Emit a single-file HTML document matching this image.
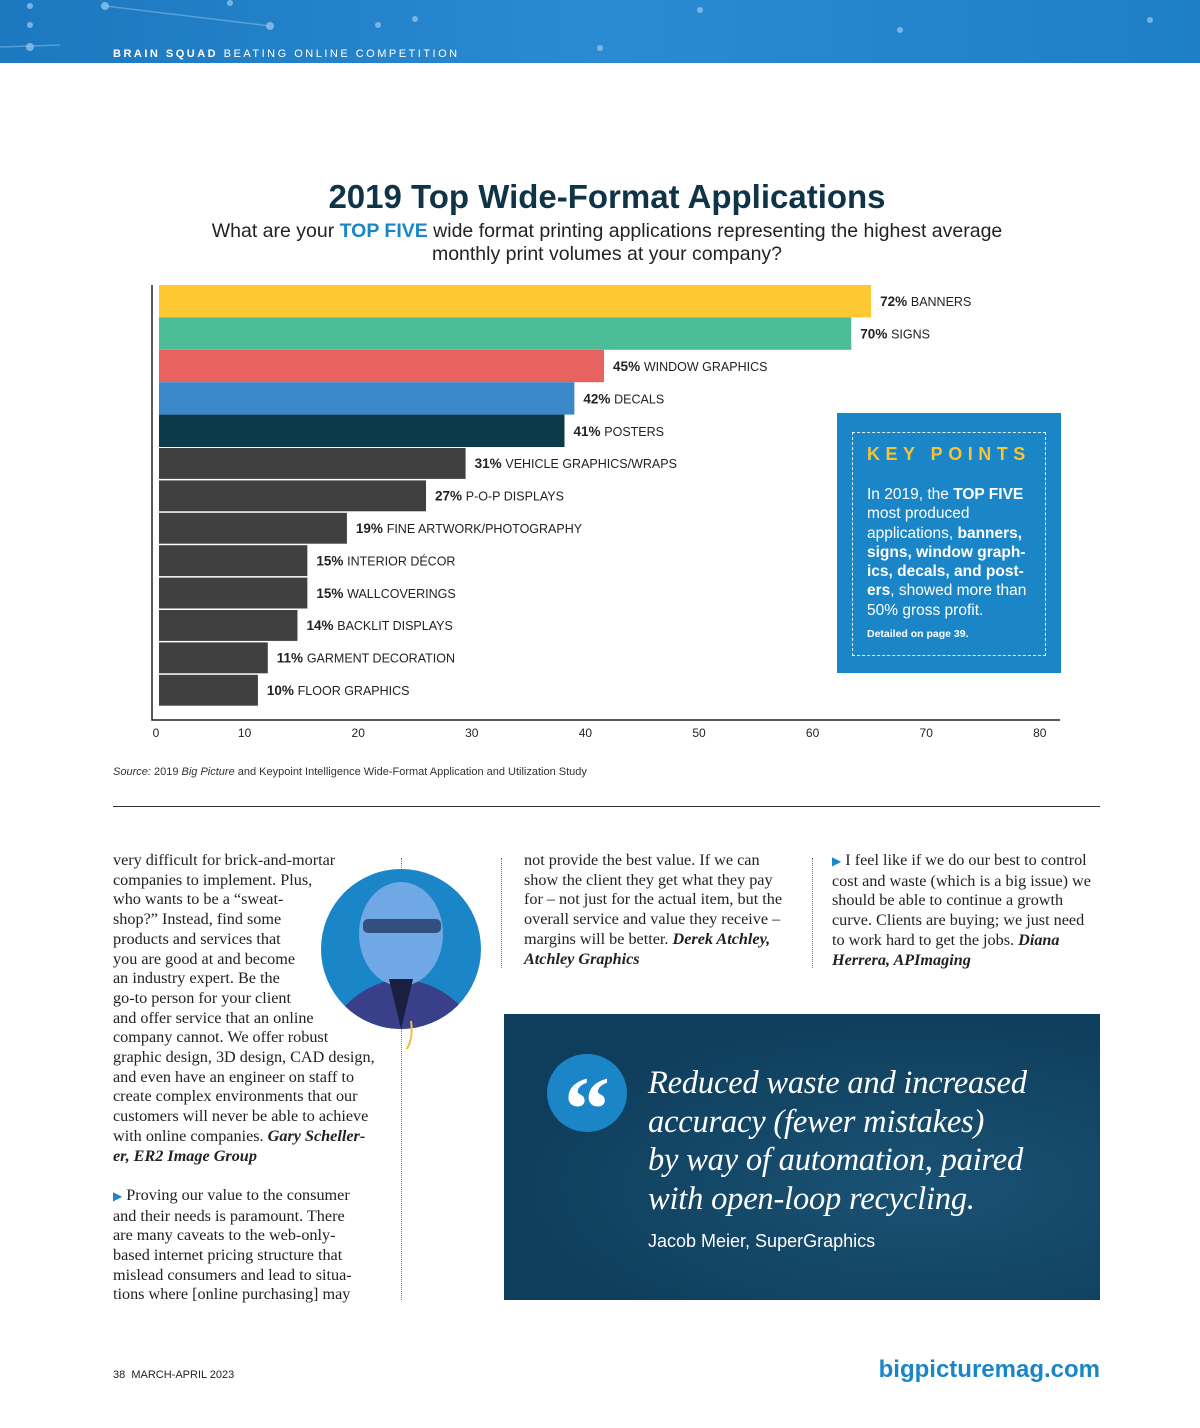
<!DOCTYPE html>
<html><head><meta charset="utf-8"><style>
body{margin:0;width:1200px;height:1428px;position:relative;background:#fff;overflow:hidden;font-family:"Liberation Sans",sans-serif;}
.a{position:absolute;white-space:nowrap;}
.ser{font-family:"Liberation Serif",serif;font-size:16.2px;color:#222;letter-spacing:0px;line-height:19.7px;}
.ser b{font-style:italic;}
.tri{color:#1a86c8;font-size:12px;}
</style></head><body>
<div class="a" style="left:0;top:0;width:1200px;height:63px;background:linear-gradient(90deg,#1c78bf,#2a8ad2 50%,#1e7fc6);">
<svg width="1200" height="63" style="position:absolute;left:0;top:0"><g fill="#8fc1ea" opacity="0.8"><circle cx="30" cy="6" r="3"/><circle cx="30" cy="25" r="3"/><circle cx="30" cy="47" r="4"/><circle cx="105" cy="6" r="4"/><circle cx="270" cy="26" r="4"/><circle cx="230" cy="3" r="3"/><circle cx="378" cy="25" r="3"/><circle cx="415" cy="19" r="3"/><circle cx="600" cy="48" r="3"/><circle cx="700" cy="10" r="3"/><circle cx="900" cy="30" r="3"/><circle cx="1150" cy="20" r="3"/></g><path d="M105 6 L270 26 M0 47 L60 45" stroke="#8fc1ea" stroke-width="1.5" opacity="0.5"/></svg>
<div class="a" style="left:113px;top:48px;font-size:11px;letter-spacing:2.5px;color:#fff;"><b>BRAIN SQUAD</b> BEATING ONLINE COMPETITION</div></div>

<div class="a" style="left:0;width:1214px;text-align:center;top:178px;font-size:33px;font-weight:bold;color:#0f3447;">2019 Top Wide-Format Applications</div>
<div class="a" style="left:0;width:1214px;text-align:center;top:220px;font-size:19.5px;line-height:23px;color:#222;white-space:normal;">What are your <b style="color:#1a86c8">TOP FIVE</b> wide format printing applications representing the highest average<br>monthly print volumes at your company?</div>

<svg id="chart" class="a" width="1200" height="760" style="left:0;top:0"></svg>

<div class="a" style="left:837px;top:413px;width:224px;height:260px;background:#1a86c8;">
<div class="a" style="left:15px;top:19px;width:192px;height:222px;border:1.5px dashed #e8f2fa;"></div>
<div class="a" style="left:30px;top:31px;font-size:18px;font-weight:bold;letter-spacing:5.5px;color:#f5c333;">KEY POINTS</div>
<div class="a" style="left:30px;top:72px;width:170px;white-space:normal;font-size:15.5px;line-height:19.3px;color:#fff;">In 2019, the <b style="color:#fff">TOP FIVE</b> most produced applications, <b>banners, signs, window graph­ics, decals, and post­ers</b>, showed more than 50% gross profit.</div>
<div class="a" style="left:30px;top:215px;font-size:10.5px;font-weight:bold;color:#fff;">Detailed on page 39.</div></div>

<div class="a" style="left:113px;top:766px;font-size:11px;color:#333;"><i>Source:</i> 2019 <i>Big Picture</i> and Keypoint Intelligence Wide-Format Application and Utilization Study</div>
<div class="a" style="left:113px;top:806px;width:987px;height:1px;background:#333;"></div>

<div class="a" style="left:401px;top:858px;height:442px;border-left:1.5px dotted #4b8a9a;"></div>
<div class="a" style="left:501px;top:858px;height:110px;border-left:1.5px dotted #4b8a9a;"></div>
<div class="a" style="left:812px;top:858px;height:110px;border-left:1.5px dotted #4b8a9a;"></div>

<div class="a ser" style="left:113px;top:851px;">very difficult for brick-and-mortar<br>companies to implement. Plus,<br>who wants to be a “sweat-<br>shop?” Instead, find some<br>products and services that<br>you are good at and become<br>an industry expert. Be the<br>go-to person for your client<br>and offer service that an online<br>company cannot. We offer robust<br>graphic design, 3D design, CAD design,<br>and even have an engineer on staff to<br>create complex environments that our<br>customers will never be able to achieve<br>with online companies. <b>Gary Scheller-<br>er, ER2 Image Group</b><br><br><span class="tri">▶</span> Proving our value to the consumer<br>and their needs is paramount. There<br>are many caveats to the web-only-<br>based internet pricing structure that<br>mislead consumers and lead to situa-<br>tions where [online purchasing] may</div>

<svg class="a" width="200" height="200" style="left:301px;top:849px"><defs><clipPath id="cp"><circle cx="100" cy="100" r="80"/></clipPath></defs><circle cx="100" cy="100" r="80" fill="#1a86c8"/><g clip-path="url(#cp)"><path d="M20 200 Q40 140 95 130 Q150 130 185 190 L185 200Z" fill="#3a3f8a"/><ellipse cx="100" cy="85" rx="42" ry="52" fill="#6fa8e4"/><rect x="62" y="70" width="78" height="14" rx="5" fill="#1a2a55" opacity="0.7"/><path d="M88 130 L100 180 L112 130Z" fill="#1a1f40"/></g><path d="M110 172 Q115 205 85 215" stroke="#f0c040" stroke-width="2" fill="none"/></svg>

<div class="a ser" style="left:524px;top:851px;">not provide the best value. If we can<br>show the client they get what they pay<br>for – not just for the actual item, but the<br>overall service and value they receive –<br>margins will be better. <b>Derek Atchley,<br>Atchley Graphics</b></div>
<div class="a ser" style="left:832px;top:851px;"><span class="tri">▶</span> I feel like if we do our best to control<br>cost and waste (which is a big issue) we<br>should be able to continue a growth<br>curve. Clients are buying; we just need<br>to work hard to get the jobs. <b>Diana<br>Herrera, APImaging</b></div>

<div class="a" style="left:504px;top:1014px;width:596px;height:286px;background:radial-gradient(ellipse at 70% 60%,#1a5274,#0f3e5c 70%);">
<div class="a" style="left:43px;top:40px;width:80px;height:78px;border-radius:50%;background:#1a86c8;color:#fff;font-family:'Liberation Serif',serif;font-weight:bold;font-size:92px;line-height:110px;text-align:center;">“</div>
<div class="a" style="left:144px;top:50px;font-family:'Liberation Serif',serif;font-style:italic;font-size:32.5px;line-height:38.5px;color:#fff;letter-spacing:-0.2px;">Reduced waste and increased<br>accuracy (fewer mistakes)<br>by way of automation, paired<br>with open-loop recycling.</div>
<div class="a" style="left:144px;top:217px;font-size:18px;color:#fff;">Jacob Meier, SuperGraphics</div></div>

<div class="a" style="left:113px;top:1369px;font-size:11px;color:#222;">38 &nbsp;MARCH-APRIL 2023</div>
<div class="a" style="right:100px;top:1356px;font-size:24px;font-weight:bold;color:#1a86c8;">bigpicturemag.com</div>

<script>
const categories=["BANNERS","SIGNS","WINDOW GRAPHICS","DECALS","POSTERS","VEHICLE GRAPHICS/WRAPS","P-O-P DISPLAYS","FINE ARTWORK/PHOTOGRAPHY","INTERIOR DÉCOR","WALLCOVERINGS","BACKLIT DISPLAYS","GARMENT DECORATION","FLOOR GRAPHICS"];
const values=[72,70,45,42,41,31,27,19,15,15,14,11,10];
const colors=["#fdc832","#4dbd98","#e8625f","#3a88c8","#0d3a4b","#404040","#404040","#404040","#404040","#404040","#404040","#404040","#404040"];
const ticks=[0,10,20,30,40,50,60,70,80];
const NS="http://www.w3.org/2000/svg";
const svg=document.getElementById('chart');
const x0=159,pxPer=9.89,y0=285,rowH=32.4;
function xScale(v){return x0+v*pxPer;}
function tickX(v){return v===0?156:131+v*11.36;}
function yScale(i){return y0+i*rowH;}
function mk(t,a){const e=document.createElementNS(NS,t);for(const k in a)e.setAttribute(k,a[k]);svg.appendChild(e);return e;}
values.forEach((v,i)=>{
 const r=mk('rect',{x:x0,y:yScale(i)+(i>4?1:0),width:xScale(v)-x0,height:rowH-(i>4?1.5:0),fill:colors[i]});
 
 
 const t=mk('text',{x:xScale(v)+9,y:yScale(i)+rowH/2+5,'font-size':'12.5','font-family':'Liberation Sans, sans-serif',fill:'#222'});
 
 
 const b=document.createElementNS(NS,'tspan');b.setAttribute('font-weight','bold');b.setAttribute('font-size','13.5');b.textContent=v+'% ';t.appendChild(b);
 t.appendChild(document.createTextNode(' '+categories[i]));
});
const ax=mk('path',{d:'M152 285 L152 720 L1060 720',stroke:'#222','stroke-width':1.5,fill:'none'});


ticks.forEach(v=>{
 const t=mk('text',{x:tickX(v),y:737,'font-size':'12','text-anchor':'middle','font-family':'Liberation Sans, sans-serif',fill:'#222'});
 
 
 t.textContent=v;
});
</script>
</body></html>
